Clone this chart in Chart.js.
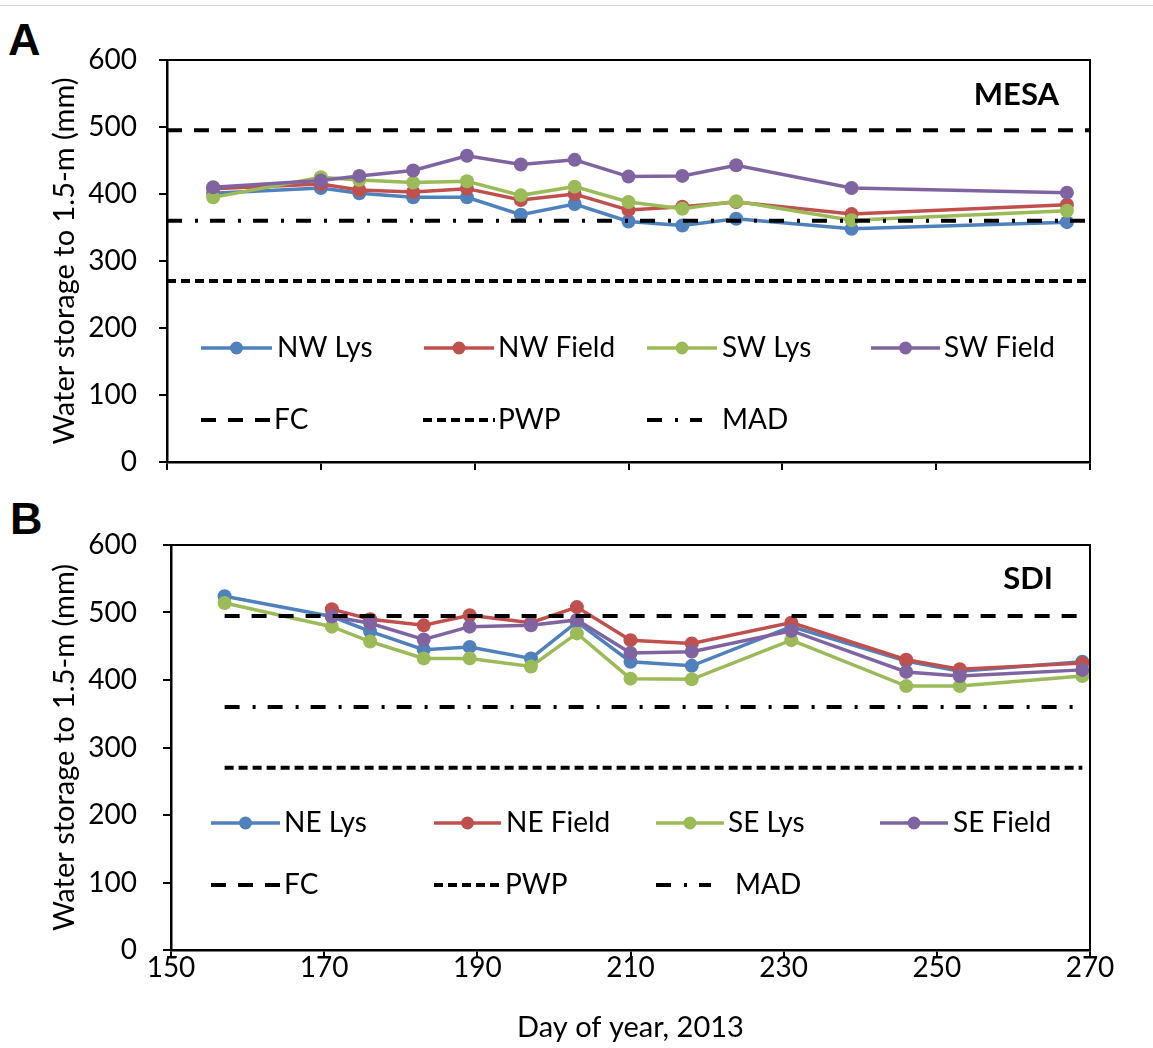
<!DOCTYPE html>
<html>
<head>
<meta charset="utf-8">
<script src="https://cdn.jsdelivr.net/npm/chart.js"></script>
<style>
    body { margin: 0; background: #fff; width: 1153px; height: 1048px; position: relative; overflow: hidden; }
    .rule { position: absolute; left: 0; top: 5px; width: 1153px; border-top: 1px solid #d4d4d4; }
    .panel-label { position: absolute; font: bold 45px "Liberation Sans", Arial, sans-serif; line-height: 1; color: #000; }
    .panel { position: absolute; left: 0; width: 1153px; }
</style>
</head>
<body>
<div class="rule"></div>
<div class="panel-label" style="left:8px; top:17px">A</div>
<div class="panel-label" style="left:10px; top:496px">B</div>
<div class="panel" style="top:0; height:500px"><canvas id="chartA" width="1153" height="500"></canvas></div>
<div class="panel" style="top:490px; height:558px"><canvas id="chartB" width="1153" height="558"></canvas></div>

<script>
    // panel A - MESA
    const daysA = [156, 170, 175, 182, 189, 196, 203, 210, 217, 224, 239, 267];
    const nwLys   = [401, 409, 401, 395, 395, 369, 385, 359, 353, 363, 348, 358];
    const nwField = [408, 415, 406, 403, 408, 391, 400, 376, 381, 388, 370, 384];
    const swLys   = [395, 425, 421, 417, 419, 398, 411, 388, 378, 389, 361, 375];
    const swField = [410, 420, 427, 435, 457, 444, 451, 426, 427, 443, 409, 402];

    // panel B - SDI
    const daysB = [157, 171, 176, 183, 189, 197, 203, 210, 218, 231, 246, 253, 269];
    const neLys   = [524, 494, 472, 445, 449, 432, 486, 427, 421, 479, 428, 413, 427];
    const neField = [null, 505, 490, 481, 496, 485, 508, 459, 454, 485, 430, 416, 425];
    const seLys   = [514, 479, 457, 432, 432, 420, 469, 402, 401, 459, 391, 391, 406];
    const seField = [null, 494, 484, 460, 479, 481, 489, 440, 442, 473, 412, 406, 415];

    // soil water thresholds (mm)
    const fcValue = 495;
    const madValue = 360;
    const pwpValue = 270;
    const refDaysA = [150, 270];
    const refDaysB = [157, 269];

    const xTicks = [150, 170, 190, 210, 230, 250, 270];
    const yTicks = [0, 100, 200, 300, 400, 500, 600];

    const BLUE = '#4F81BD', RED = '#C0504D', GREEN = '#9BBB59', PURPLE = '#8064A2';
    const FONT = 'Lato';
    const DASH_FC = [15, 12];
    const DASH_PWP = [9, 5];
    const DASH_MAD = [15, 13, 3, 12];

    const series = (label, days, values, color, order) => ({
        label: label,
        data: days.map((d, i) => ({x: d, y: values[i]})),
        borderColor: color,
        backgroundColor: color,
        borderWidth: 3.5,
        pointRadius: 7,
        pointHoverRadius: 7,
        pointBorderWidth: 0,
        spanGaps: false,
        order: order
    });

    const refLine = (label, value, days, dash) => ({
        label: label,
        data: days.map((d) => ({x: d, y: value})),
        borderColor: '#000',
        borderWidth: 4,
        borderDash: dash,
        borderCapStyle: 'butt',
        pointRadius: 0,
        order: 0
    });

    // frame + legend + panel name drawn inside the plot area
    const decorPlugin = {
        id: 'decor',
        afterDraw(chart, args, opts) {
            const ctx = chart.ctx;
            const a = chart.chartArea;
            ctx.save();
            ctx.strokeStyle = '#000';
            ctx.lineWidth = 2;
            ctx.beginPath();
            ctx.moveTo(a.left, a.top);
            ctx.lineTo(a.right, a.top);
            ctx.lineTo(a.right, a.bottom);
            ctx.stroke();

            ctx.font = 'bold 31px ' + FONT;
            ctx.fillStyle = '#000';
            ctx.textAlign = 'right';
            ctx.textBaseline = 'middle';
            ctx.fillText(opts.name, opts.nameX, opts.nameY);

            ctx.font = '28px ' + FONT;
            ctx.textAlign = 'left';
            opts.items.forEach((it) => {
                ctx.beginPath();
                ctx.strokeStyle = it.color;
                ctx.lineWidth = it.dash ? 4 : 3.5;
                ctx.setLineDash(it.dash || []);
                ctx.moveTo(it.x1, it.y);
                ctx.lineTo(it.x2, it.y);
                ctx.stroke();
                ctx.setLineDash([]);
                if (!it.dash) {
                    ctx.beginPath();
                    ctx.fillStyle = it.color;
                    ctx.arc((it.x1 + it.x2) / 2, it.y, 6.5, 0, Math.PI * 2);
                    ctx.fill();
                }
                ctx.fillStyle = '#000';
                ctx.fillText(it.text, it.tx, it.y);
            });
            ctx.restore();
        }
    };

    const makeChart = (id, cfg) => new Chart(document.getElementById(id), {
        type: 'line',
        data: {datasets: cfg.datasets},
        plugins: [decorPlugin],
        options: {
            responsive: false,
            animation: false,
            events: [],
            layout: {padding: {top: cfg.top, right: 63, bottom: 0, left: 0}},
            plugins: {
                legend: {display: false},
                tooltip: {enabled: false},
                decor: cfg.decor
            },
            scales: {
                x: {
                    type: 'linear',
                    min: 150,
                    max: 270,
                    afterBuildTicks: (s) => { s.ticks = xTicks.map((v) => ({value: v})); },
                    afterFit: (s) => { s.height = cfg.xHeight; },
                    border: {display: true, color: '#000', width: 2.5},
                    grid: {drawOnChartArea: false, drawTicks: true, tickLength: 8, color: '#000', lineWidth: 2},
                    ticks: {
                        display: cfg.xLabels,
                        color: '#000',
                        padding: -4,
                        maxRotation: 0,
                        font: {family: FONT, size: 28, lineHeight: 1}
                    },
                    title: {
                        display: cfg.xLabels,
                        text: 'Day of year, 2013',
                        color: '#000',
                        font: {family: FONT, size: 29, lineHeight: 1.2},
                        padding: {top: 0, bottom: 3}
                    }
                },
                y: {
                    min: 0,
                    max: 600,
                    afterBuildTicks: (s) => { s.ticks = yTicks.map((v) => ({value: v})); },
                    afterFit: (s) => { s.width = cfg.yWidth; },
                    border: {display: true, color: '#000', width: 2.5},
                    grid: {drawOnChartArea: false, drawTicks: true, tickLength: 8, color: '#000', lineWidth: 2},
                    ticks: {
                        color: '#000',
                        padding: cfg.yWidth - 145,
                        font: {family: FONT, size: 28, lineHeight: 1}
                    },
                    title: {
                        display: true,
                        text: 'Water storage to 1.5-m (mm)',
                        color: '#000',
                        font: {family: FONT, size: 29, lineHeight: 1.2},
                        padding: {top: 47, bottom: 0}
                    }
                }
            }
        }
    });

    makeChart('chartA', {
        top: 60,
        xHeight: 38,
        yWidth: 167,
        xLabels: false,
        datasets: [
            series('NW Lys', daysA, nwLys, BLUE, 4),
            series('NW Field', daysA, nwField, RED, 3),
            series('SW Lys', daysA, swLys, GREEN, 2),
            series('SW Field', daysA, swField, PURPLE, 1),
            refLine('FC', fcValue, refDaysA, DASH_FC),
            refLine('PWP', pwpValue, refDaysA, DASH_PWP),
            refLine('MAD', madValue, refDaysA, DASH_MAD)
        ],
        decor: {
            name: 'MESA', nameX: 1059, nameY: 95,
            items: [
                {text: 'NW Lys', color: BLUE, x1: 201, x2: 272, tx: 277, y: 348},
                {text: 'NW Field', color: RED, x1: 424, x2: 494, tx: 498, y: 348},
                {text: 'SW Lys', color: GREEN, x1: 647, x2: 717, tx: 722, y: 348},
                {text: 'SW Field', color: PURPLE, x1: 871, x2: 940, tx: 944, y: 348},
                {text: 'FC', color: '#000', dash: DASH_FC, x1: 201, x2: 270, tx: 274, y: 420},
                {text: 'PWP', color: '#000', dash: DASH_PWP, x1: 423, x2: 495, tx: 498, y: 420},
                {text: 'MAD', color: '#000', dash: DASH_MAD, x1: 647, x2: 702, tx: 722, y: 420}
            ]
        }
    });

    makeChart('chartB', {
        top: 55,
        xHeight: 98,
        yWidth: 171,
        xLabels: true,
        datasets: [
            series('NE Lys', daysB, neLys, BLUE, 4),
            series('NE Field', daysB, neField, RED, 3),
            series('SE Lys', daysB, seLys, GREEN, 2),
            series('SE Field', daysB, seField, PURPLE, 1),
            refLine('FC', fcValue, refDaysB, DASH_FC),
            refLine('PWP', pwpValue, refDaysB, DASH_PWP),
            refLine('MAD', madValue, refDaysB, DASH_MAD)
        ],
        decor: {
            name: 'SDI', nameX: 1053, nameY: 89,
            items: [
                {text: 'NE Lys', color: BLUE, x1: 211, x2: 280, tx: 284, y: 333},
                {text: 'NE Field', color: RED, x1: 434, x2: 501, tx: 506, y: 333},
                {text: 'SE Lys', color: GREEN, x1: 656, x2: 724, tx: 728, y: 333},
                {text: 'SE Field', color: PURPLE, x1: 880, x2: 948, tx: 953, y: 333},
                {text: 'FC', color: '#000', dash: DASH_FC, x1: 211, x2: 280, tx: 284, y: 395},
                {text: 'PWP', color: '#000', dash: DASH_PWP, x1: 434, x2: 501, tx: 505, y: 395},
                {text: 'MAD', color: '#000', dash: DASH_MAD, x1: 656, x2: 711, tx: 735, y: 395}
            ]
        }
    });
</script>
</body>
</html>
